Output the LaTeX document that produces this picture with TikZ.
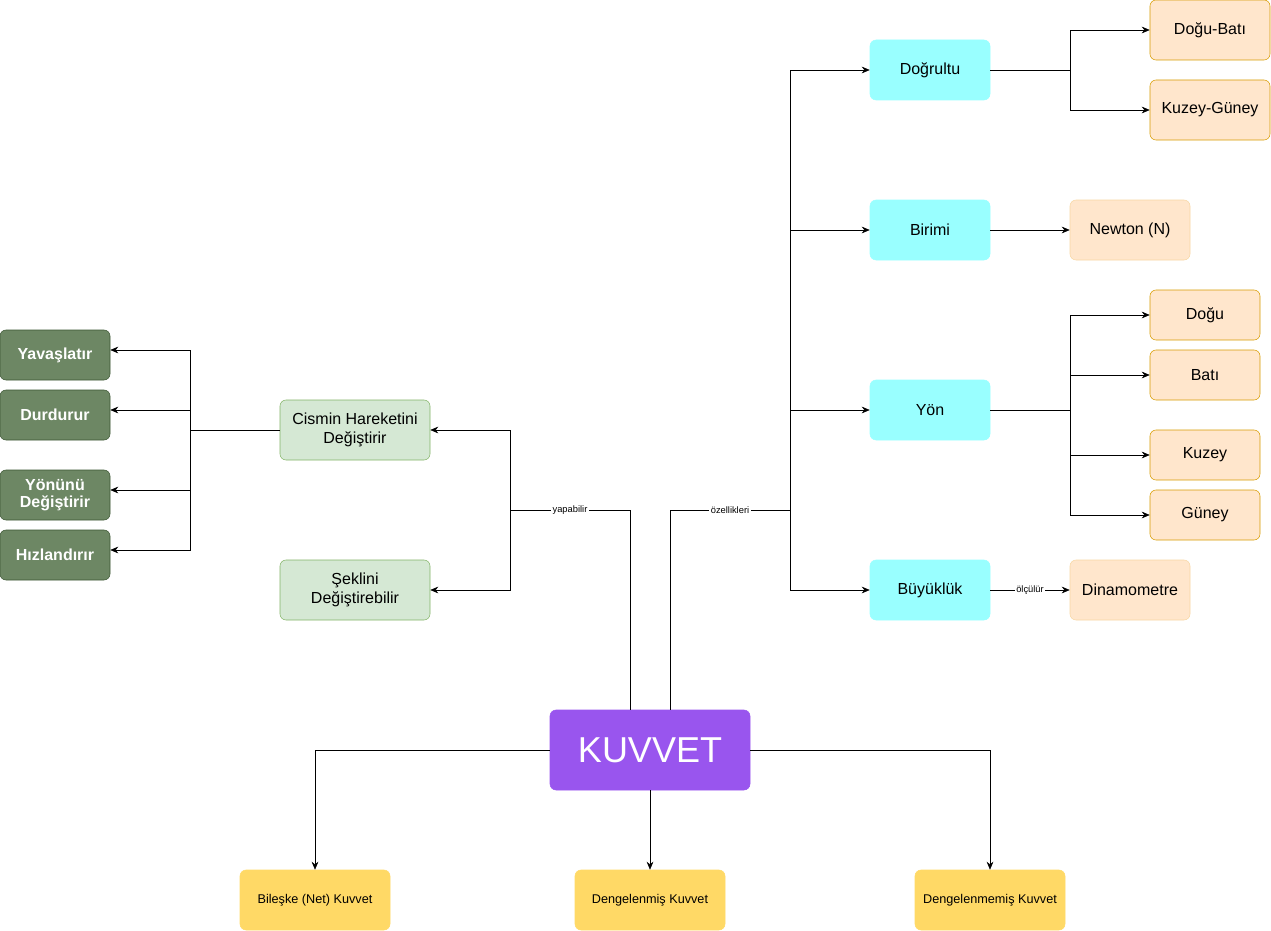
\documentclass[tikz,border=0pt]{standalone}
\usepackage{fontspec}
\setmainfont{Liberation Sans}
\usetikzlibrary{arrows.meta}
\definecolor{kv}{HTML}{9955EE}
\definecolor{yel}{HTML}{FFD966}
\definecolor{cy}{HTML}{99FFFF}
\definecolor{orf}{HTML}{FFE6CC}
\definecolor{ors}{HTML}{D79B00}
\definecolor{gf}{HTML}{D5E8D4}
\definecolor{gs}{HTML}{82B366}
\definecolor{dg}{HTML}{6D8764}
\definecolor{dgs}{HTML}{3A5431}
\begin{document}
\begin{tikzpicture}[x=0.75pt,y=-0.75pt,
 base/.style={rounded corners=4.5pt,align=center,inner sep=1pt,font=\fontsize{12}{14}\selectfont},
 kvb/.style={base,fill=kv,draw=kv,text=white,minimum width=150pt,minimum height=60pt,font=\fontsize{27}{30}\selectfont},
 yb/.style={base,fill=yel,draw=yel,minimum width=112.5pt,minimum height=45pt,font=\fontsize{9.5}{11}\selectfont},
 cb/.style={base,fill=cy,draw=cy,minimum width=90pt,minimum height=45pt},
 ob/.style={base,fill=orf,draw=ors,minimum width=90pt,minimum height=45pt},
 olb/.style={base,fill=orf,draw=orf!80!ors,minimum width=90pt,minimum height=45pt},
 osb/.style={base,fill=orf,draw=ors,minimum width=82.5pt,minimum height=37.5pt},
 gb/.style={base,fill=gf,draw=gs,minimum width=112.5pt,minimum height=45pt},
 db/.style={base,fill=dg,draw=dgs,text=white,minimum width=82.5pt,minimum height=37.5pt,font=\bfseries\fontsize{12}{13}\selectfont},
 ar/.style={-{Stealth[length=6pt,width=5pt]},black},
 ln/.style={black},
 lab/.style={fill=white,inner sep=1pt,font=\fontsize{7}{8}\selectfont}]
\useasboundingbox (0,0) rectangle (1271,931);
\node[kvb] (k) at (650,750) {KUVVET};
\node[yb] (b1) at (315,900) {Bileşke (Net) Kuvvet};
\node[yb] (b2) at (650,900) {Dengelenmiş Kuvvet};
\node[yb] (b3) at (990,900) {Dengelenmemiş Kuvvet};
\node[cb] (c1) at (930,70) {Doğrultu};
\node[cb] (c2) at (930,230) {Birimi};
\node[cb] (c3) at (930,410) {Yön};
\node[cb] (c4) at (930,590) {Büyüklük};
\node[ob] (o1) at (1210,30) {Doğu-Batı};
\node[ob] (o2) at (1210,110) {Kuzey-Güney};
\node[olb] (n) at (1130,230) {Newton (N)};
\node[olb] (dm) at (1130,590) {Dinamometre};
\node[osb] (y1) at (1205,315) {Doğu};
\node[osb] (y2) at (1205,375) {Batı};
\node[osb] (y3) at (1205,455) {Kuzey};
\node[osb] (y4) at (1205,515) {Güney};
\node[gb] (g1) at (355,430) {Cismin Hareketini\\Değiştirir};
\node[gb] (g2) at (355,590) {Şeklini\\Değiştirebilir};
\node[db] (d1) at (55,355) {Yavaşlatır};
\node[db] (d2) at (55,415) {Durdurur};
\node[db] (d3) at (55,495) {Yönünü\\Değiştirir};
\node[db] (d4) at (55,555) {Hızlandırır};
% bottom
\draw[ar] (k.west) -| (b1.north);
\draw[ar] (k.south) -- (b2.north);
\draw[ar] (k.east) -| (b3.north);
% yapabilir
\coordinate (ya) at (510,510);
\draw[ln] (k.north -| 630,0) |- node[lab,pos=0.75]{yapabilir} (ya);
\draw[ar] (ya) |- (g1.east);
\draw[ar] (ya) |- (g2.east);
% ozellikleri
\coordinate (oz) at (790,510);
\draw[ln] (k.north -| 670,0) |- node[lab,pos=0.75]{özellikleri} (oz);
\draw[ar] (oz) |- (c1.west);
\draw[ar] (oz) |- (c2.west);
\draw[ar] (oz) |- (c3.west);
\draw[ar] (oz) |- (c4.west);
% dogrultu
\coordinate (dj) at (1070,70);
\draw[ln] (c1.east) -- (dj);
\draw[ar] (dj) |- (o1.west);
\draw[ar] (dj) |- (o2.west);
\draw[ar] (c2.east) -- (n.west);
\coordinate (yj) at (1070,410);
\draw[ln] (c3.east) -- (yj);
\draw[ar] (yj) |- (y1.west);
\draw[ar] (yj) |- (y2.west);
\draw[ar] (yj) |- (y3.west);
\draw[ar] (yj) |- (y4.west);
\draw[ar] (c4.east) -- node[lab]{ölçülür} (dm.west);
% left
\coordinate (lj) at (190,430);
\draw[ln] (g1.west) -- (lj);
\draw[ar] (lj) |- (d1.east |- 0,350);
\draw[ar] (lj) |- (d2.east |- 0,410);
\draw[ar] (lj) |- (d3.east |- 0,490);
\draw[ar] (lj) |- (d4.east |- 0,550);
\end{tikzpicture}
\end{document}
